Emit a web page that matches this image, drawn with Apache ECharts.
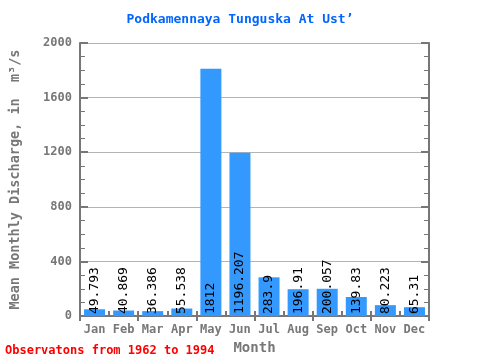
<!DOCTYPE html>
<html><head><meta charset="utf-8">
<script src="https://cdn.jsdelivr.net/npm/echarts@6/dist/echarts.min.js"></script>
<style>html,body{margin:0;padding:0;background:#fff}#c{width:480px;height:360px}</style>
</head><body><div id="c"></div>
<script>
const months = ['Jan','Feb','Mar','Apr','May','Jun','Jul','Aug','Sep','Oct','Nov','Dec'];
const discharge = [49.793, 40.869, 36.386, 55.538, 1812, 1196.207, 283.9, 196.91, 200.057, 139.83, 80.223, 65.31];
const labels = ['49.793','40.869','36.386','55.538','1812','1196.207','283.9','196.91','200.057','139.83','80.223','65.31'];
const yTicks = [0, 400, 800, 1200, 1600, 2000];
const titleText = 'Podkamennaya Tunguska At Ust\u2019';
const noteText = 'Observatons from 1962 to 1994';

const mono = '"DejaVu Sans Mono", "Liberation Mono", monospace';
const gray = '#777777';
const chart = echarts.init(document.getElementById('c'), null, {renderer:'canvas'});
const yCommon = {
  type:'value', min: yTicks[0], max: yTicks[yTicks.length-1], interval: 400,
  axisLine:{show:true, lineStyle:{color:gray, width:2}},
  axisTick:{show:true, inside:true, length:8, lineStyle:{color:gray, width:2}},
  minorTick:{show:true, splitNumber:4, length:5, lineStyle:{color:gray, width:1}},
};
chart.setOption({
  animation:false,
  title:{text:titleText, left:'center', top:8,
    textStyle:{color:'#0066ff', fontFamily:mono, fontWeight:'bold', fontSize:13}},
  graphic:[{type:'text', left:5, top:345, style:{text:noteText, fill:'#ff0000', font:'bold 12px '+mono}}],
  grid:{left:80, right:51, top:43, bottom:38, show:false},
  xAxis:[{
    type:'category', data:months, position:'bottom',
    name:'Month', nameLocation:'middle', nameGap:24,
    nameTextStyle:{color:gray, fontFamily:mono, fontWeight:'bold', fontSize:14},
    axisLine:{show:true, lineStyle:{color:gray, width:2}},
    axisTick:{show:true, inside:true, length:5, alignWithLabel:false, lineStyle:{color:gray, width:2}},
    axisLabel:{color:gray, fontFamily:mono, fontWeight:'bold', fontSize:12, margin:8},
  },{
    type:'category', data:months, position:'top',
    axisLine:{show:true, lineStyle:{color:gray, width:2}},
    axisTick:{show:true, inside:true, length:5, lineStyle:{color:gray, width:2}},
    axisLabel:{show:false},
  }],
  yAxis:[Object.assign({}, yCommon, {
    position:'left',
    name:'Mean Monthly Discharge, in  m\u00b3/s', nameLocation:'middle', nameGap:58,
    nameTextStyle:{color:gray, fontFamily:mono, fontWeight:'bold', fontSize:13.5},
    axisLabel:{color:gray, fontFamily:mono, fontWeight:'bold', fontSize:12, margin:8,
      formatter: v => String(v)},
    splitLine:{show:true, lineStyle:{color:'#b4b4b4', width:1}},
  }), Object.assign({}, yCommon, {
    position:'right', axisLabel:{show:false}, splitLine:{show:false},
  })],
  series:[{
    type:'bar', data:discharge, barWidth:21, xAxisIndex:0, yAxisIndex:0,
    itemStyle:{color:'#3399ff'},
    label:{show:true, position:'insideBottom', rotate:90, align:'left', verticalAlign:'middle',
      distance:2, color:'#000', fontFamily:mono, fontSize:13,
      formatter:p => labels[p.dataIndex]},
  }]
});
</script></body></html>
